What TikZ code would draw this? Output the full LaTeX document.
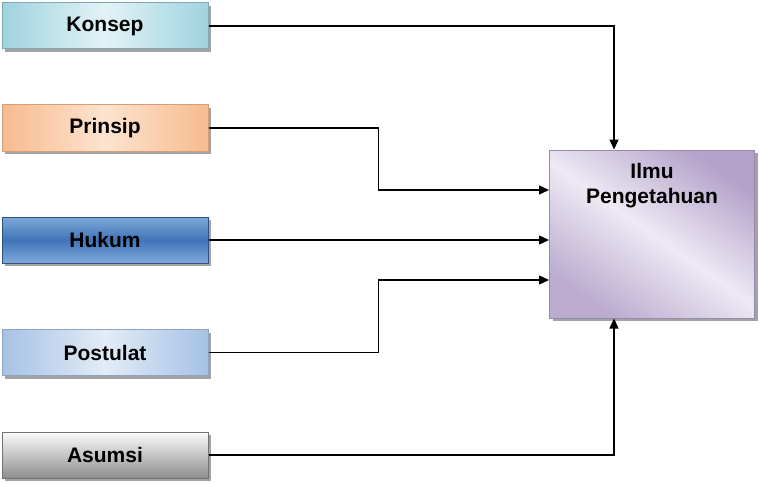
\documentclass[tikz,border=0pt]{standalone}
\usepackage{fontspec}
\setmainfont{Liberation Sans}
\usetikzlibrary{arrows.meta,shadows,calc}
\definecolor{konA}{HTML}{9FD3DF}
\definecolor{konB}{HTML}{E2F3F6}
\definecolor{prA}{HTML}{F7BB8E}
\definecolor{prB}{HTML}{FDE3CF}
\definecolor{huA}{HTML}{3F74B6}
\definecolor{huB}{HTML}{80A9DA}
\definecolor{poA}{HTML}{A6C2E4}
\definecolor{poB}{HTML}{E2ECF7}
\definecolor{asA}{HTML}{8E8E8E}
\definecolor{asB}{HTML}{FBFBFB}
\definecolor{ilA}{HTML}{B3A2CA}
\definecolor{ilB}{HTML}{EEE9F4}
\tikzset{
  srcbox/.style={draw=#1, line width=1pt, minimum width=206pt, minimum height=46pt,
    inner sep=0pt, font=\bfseries\fontsize{21}{25}\selectfont,
    drop shadow={shadow xshift=3pt, shadow yshift=-3pt, fill=black!45, opacity=0.8}},
  conn/.style={line width=1.4pt, -{Triangle[length=10pt,width=9pt]}},
}
\begin{document}
\begin{tikzpicture}[x=1pt,y=-1pt]
\useasboundingbox (0,0) rectangle (759,484);
\node[srcbox=konA!80!black, left color=konA, right color=konA, middle color=konB] (konsep) at (105,26) {Konsep};
\node[srcbox=prA!85!black, left color=prA, right color=prA, middle color=prB] (prinsip) at (105,128) {Prinsip};
\node[srcbox=huA!70!black, top color=huB, bottom color=huB, middle color=huA] (hukum) at (105,240) {Hukum};
\node[srcbox=poA!85!black, left color=poA, right color=poA, middle color=poB] (postulat) at (105,352.5) {Postulat};
\node[srcbox=asA!80!black, top color=asB, bottom color=asA] (asumsi) at (105,455) {Asumsi};
\node[draw=ilA!85!black, line width=1pt, minimum width=205pt, minimum height=168pt, inner sep=0pt,
  left color=ilA, right color=ilA!90!white, middle color=ilB, shading angle=-35,
  drop shadow={shadow xshift=3pt, shadow yshift=-3pt, fill=black!45, opacity=0.8},
  label={[anchor=north, yshift=-10pt, align=center, font=\bfseries\fontsize{21}{25}\selectfont]north:Ilmu\\Pengetahuan}]
  (ilmu) at (652,234) {};
\draw[conn] (konsep.east) -| ([xshift=-38pt]ilmu.north);
\draw[conn] (prinsip.east) -- ++(170,0) |- ([yshift=44pt]ilmu.west);
\draw[conn] (hukum.east) -- (hukum.east -| ilmu.west);
\draw[conn] (postulat.east) -- ++(170,0) |- ([yshift=-46pt]ilmu.west);
\draw[conn] (asumsi.east) -| ([xshift=-38pt]ilmu.south);
\end{tikzpicture}
\end{document}
